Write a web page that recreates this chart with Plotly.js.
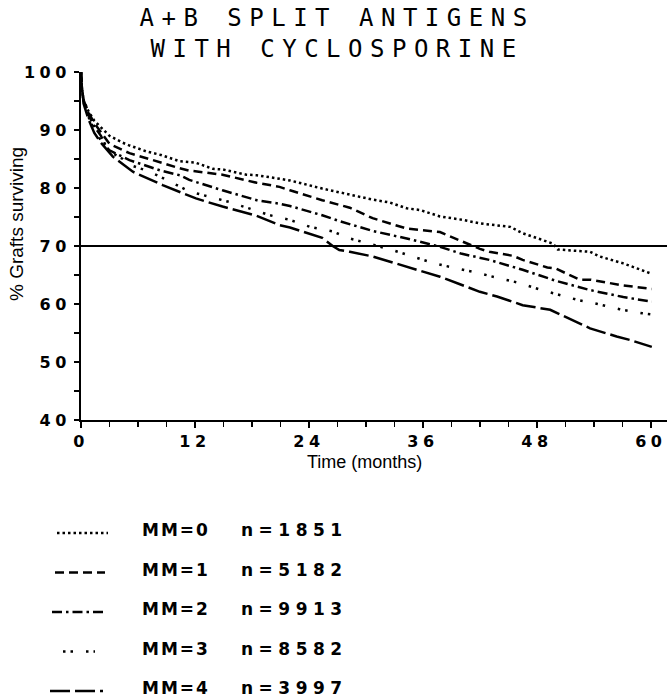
<!DOCTYPE html>
<html>
<head>
<meta charset="utf-8">
<script src="https://cdn.plot.ly/plotly-3.0.1.min.js"></script>
<style>
  body { margin: 0; background: #fff; }
  .xtick text, .ytick text { letter-spacing: 4.5px; }
  .annotation-text { letter-spacing: 2px; }
  g.annotation[data-index="0"] .annotation-text { letter-spacing: 7.5px; }
  g.annotation[data-index="1"] .annotation-text,
  g.annotation[data-index="2"] .annotation-text { letter-spacing: 0; }
  g.annotation[data-index="8"] .annotation-text,
  g.annotation[data-index="9"] .annotation-text,
  g.annotation[data-index="10"] .annotation-text,
  g.annotation[data-index="11"] .annotation-text,
  g.annotation[data-index="12"] .annotation-text { letter-spacing: 5.5px; }
</style>
</head>
<body>
<div id="chart" style="width:667px;height:699px;"></div>
<script>
// Graft survival (%) by number of HLA-A+B split-antigen mismatches, cyclosporine-treated
const mm0Months = [0,0.1,0.3,0.8,1.4,2.1,3.0,4.4,5.0,6.9,8.4,10.4,12.0,13.9,14.9,17.4,18.5,20.9,22.0,25.4,28.3,30.7,32.5,34.3,35.7,37.8,40.2,42.0,45.2,46.5,48.3,49.7,50.2,53.6,54.6,57.1,60.1];
const mm0Surv   = [100,97,95,93.2,91.6,90.4,89.0,87.8,87.4,86.3,85.7,84.6,84.4,83.3,83.2,82.3,82.2,81.6,81.3,79.9,78.8,78.0,77.5,76.5,76.2,75.1,74.5,73.9,73.3,72.2,71.2,70.4,69.4,69.0,68.2,67.0,65.2];

const mm1Months = [0,0.1,0.3,0.8,1.4,2.1,3.0,5.1,6.9,8.4,10.4,11.4,14.9,18.5,20.9,22.0,25.4,28.3,30.7,34.3,37.8,40.2,42.0,43.0,45.5,46.5,49.1,50.0,52.5,53.6,56.0,57.1,60.1];
const mm1Surv   = [100,97,95,93,91.2,89.6,87.6,86.0,85.2,84.4,83.4,83.0,82.3,80.9,80.2,79.6,77.9,76.6,74.8,73.0,72.4,70.8,69.5,69.0,68.3,67.6,66.3,66.1,64.2,64.2,63.5,63.2,62.6];

const mm2Months = [0,0.1,0.3,0.8,1.4,2.1,2.7,3.0,5.1,6.9,8.4,10.4,11.4,14.9,18.5,20.9,22.0,25.4,27.2,30.7,34.3,37.5,40.0,43.0,46.5,50.0,53.6,57.1,60.1];
const mm2Surv   = [100,97,94.8,92.6,90.6,89.0,87.0,86.5,84.8,83.8,83.0,82.2,81.4,79.6,77.9,77.3,76.9,75.3,74.3,72.6,71.3,70.0,68.7,67.6,65.9,64.0,62.4,61.2,60.4];

const mm3Months = [0,0.1,0.3,0.8,1.4,2.1,3.0,4.4,5.1,6.9,8.4,10.4,11.4,15.6,19.9,22.0,24.1,26.5,28.3,32.8,34.9,37.2,39.4,41.7,43.6,46.0,48.3,50.2,52.3,54.4,56.7,59.1,60.1];
const mm3Surv   = [100,97,94.6,92.2,90.0,88.2,86.3,85.0,84.0,83.0,81.9,80.3,79.4,77.6,75.3,74.5,73.3,72.5,71.3,69.3,68.2,67.0,66.2,65.4,64.6,63.7,62.5,61.6,60.7,60.0,59.1,58.4,58.2];

const mm4Months = [0,0.1,0.3,0.8,1.4,2.1,3.35,5.46,8.6,12.1,14.9,18.5,20.9,22.0,25.4,26.5,27.2,28.3,30.7,34.3,37.8,39.9,42.0,43.8,46.5,49.4,51.8,53.6,56.4,57.8,60.1];
const mm4Surv   = [100,97,94.4,91.8,89.5,87.8,85.4,82.8,80.5,78.2,76.8,75.2,73.6,73.2,71.4,70.0,69.3,69.0,68.2,66.4,64.7,63.4,62.1,61.3,59.8,59.0,57.2,55.8,54.4,53.8,52.6];

const seriesNames  = ['MM=0', 'MM=1', 'MM=2', 'MM=3', 'MM=4'];
const seriesCounts = ['n=1851', 'n=5182', 'n=9913', 'n=8582', 'n=3997'];
const xTickVals = [0, 12, 24, 36, 48, 60];
const yTickVals = [40, 50, 60, 70, 80, 90, 100];
const referenceLevel = 70;

const titleText = 'A+B SPLIT ANTIGENS<br>WITH CYCLOSPORINE';
const yTitle = '% Grafts surviving';
const xTitle = 'Time (months)';

// line patterns for each mismatch group
const dashes = ['2.5px,3px', '9px,5px', '10px,4px,2.5px,4px', '2.5px,5px,2.5px,13px', '20px,5px'];

// plot frame in pixels
const W = 667, H = 699, L = 81, T = 72, PW = W - L, PH = 348;
const px = v => (v - L) / PW;
const py = v => (T + PH - v) / PH;

const monthsAll = [mm0Months, mm1Months, mm2Months, mm3Months, mm4Months];
const survAll = [mm0Surv, mm1Surv, mm2Surv, mm3Surv, mm4Surv];

const traces = monthsAll.map((m, i) => ({
  x: m, y: survAll[i], type: 'scatter', mode: 'lines', name: seriesNames[i],
  line: { color: 'black', width: 2.5, dash: dashes[i] },
  hoverinfo: 'skip', showlegend: false
}));

const legendFont = { family: 'DejaVu Sans', size: 17, weight: 'bold', color: 'black' };
const sans = { family: 'Liberation Sans', size: 18, color: 'black' };

// annotation order: 0 title, 1 y title, 2 x title, 3-7 group names, 8-12 group sizes
const annotations = [
  { text: titleText, xref: 'paper', yref: 'paper', x: px(337), y: py(34), showarrow: false,
    xanchor: 'center', yanchor: 'middle', align: 'center',
    font: { family: 'DejaVu Sans Mono', size: 24, color: 'black' } },
  { text: yTitle, xref: 'paper', yref: 'paper', x: px(16), y: py(224), showarrow: false, textangle: -90,
    xanchor: 'center', yanchor: 'middle', font: { family: 'Liberation Sans', size: 19, color: 'black' } },
  { text: xTitle, xref: 'paper', yref: 'paper', x: px(364), y: py(462), showarrow: false,
    xanchor: 'center', yanchor: 'middle', font: sans }
];

const rowY = [530, 569.5, 609, 648.5, 688];
const sampleX = [[57, 108], [55, 105], [52, 103], [63, 95], [50, 103]];
const shapes = [
  { type: 'line', xref: 'paper', yref: 'y', x0: 0, x1: 1, y0: referenceLevel, y1: referenceLevel,
    line: { color: 'black', width: 2 } }
];

seriesNames.forEach((name, i) => {
  annotations.push({ text: name, xref: 'paper', yref: 'paper', x: px(140), y: py(rowY[i]), showarrow: false,
    xanchor: 'left', yanchor: 'middle', align: 'left', font: legendFont });
});
seriesCounts.forEach((cnt, i) => {
  annotations.push({ text: cnt, xref: 'paper', yref: 'paper', x: px(239), y: py(rowY[i]), showarrow: false,
    xanchor: 'left', yanchor: 'middle', align: 'left', font: legendFont });
  shapes.push({ type: 'line', xref: 'paper', yref: 'paper',
    x0: px(sampleX[i][0]), x1: px(sampleX[i][1]), y0: py(rowY[i] + 3), y1: py(rowY[i] + 3),
    line: { color: 'black', width: 2.5, dash: dashes[i] } });
});

const tickFont = { family: 'DejaVu Sans', size: 16, weight: 'bold', color: 'black' };

const layout = {
  width: W, height: H,
  margin: { l: L, r: 0, t: T, b: H - T - PH, pad: 0 },
  paper_bgcolor: 'white', plot_bgcolor: 'white',
  showlegend: false,
  xaxis: {
    range: [0, 61.7], tickmode: 'array', tickvals: xTickVals, ticktext: xTickVals.map(String),
    ticks: 'outside', ticklen: 6, tickwidth: 1.5, tickcolor: 'black',
    minor: { tickmode: 'linear', tick0: 0, dtick: 3, ticks: 'outside', ticklen: 5, tickwidth: 1.5, tickcolor: 'black', showgrid: false },
    showline: true, linewidth: 2, linecolor: 'black', showgrid: false, zeroline: false,
    tickfont: tickFont, fixedrange: true
  },
  yaxis: {
    range: [40, 100], tickmode: 'array', tickvals: yTickVals, ticktext: yTickVals.map(String),
    ticks: 'outside', ticklen: 5, tickwidth: 1.5, tickcolor: 'black',
    minor: { tickmode: 'linear', tick0: 40, dtick: 5, ticks: 'outside', ticklen: 5, tickwidth: 1.5, tickcolor: 'black', showgrid: false },
    showline: true, linewidth: 2, linecolor: 'black', showgrid: false, zeroline: false,
    tickfont: tickFont, fixedrange: true
  },
  shapes: shapes,
  annotations: annotations
};

Plotly.newPlot('chart', traces, layout, { staticPlot: true, displayModeBar: false });
</script>
</body>
</html>
